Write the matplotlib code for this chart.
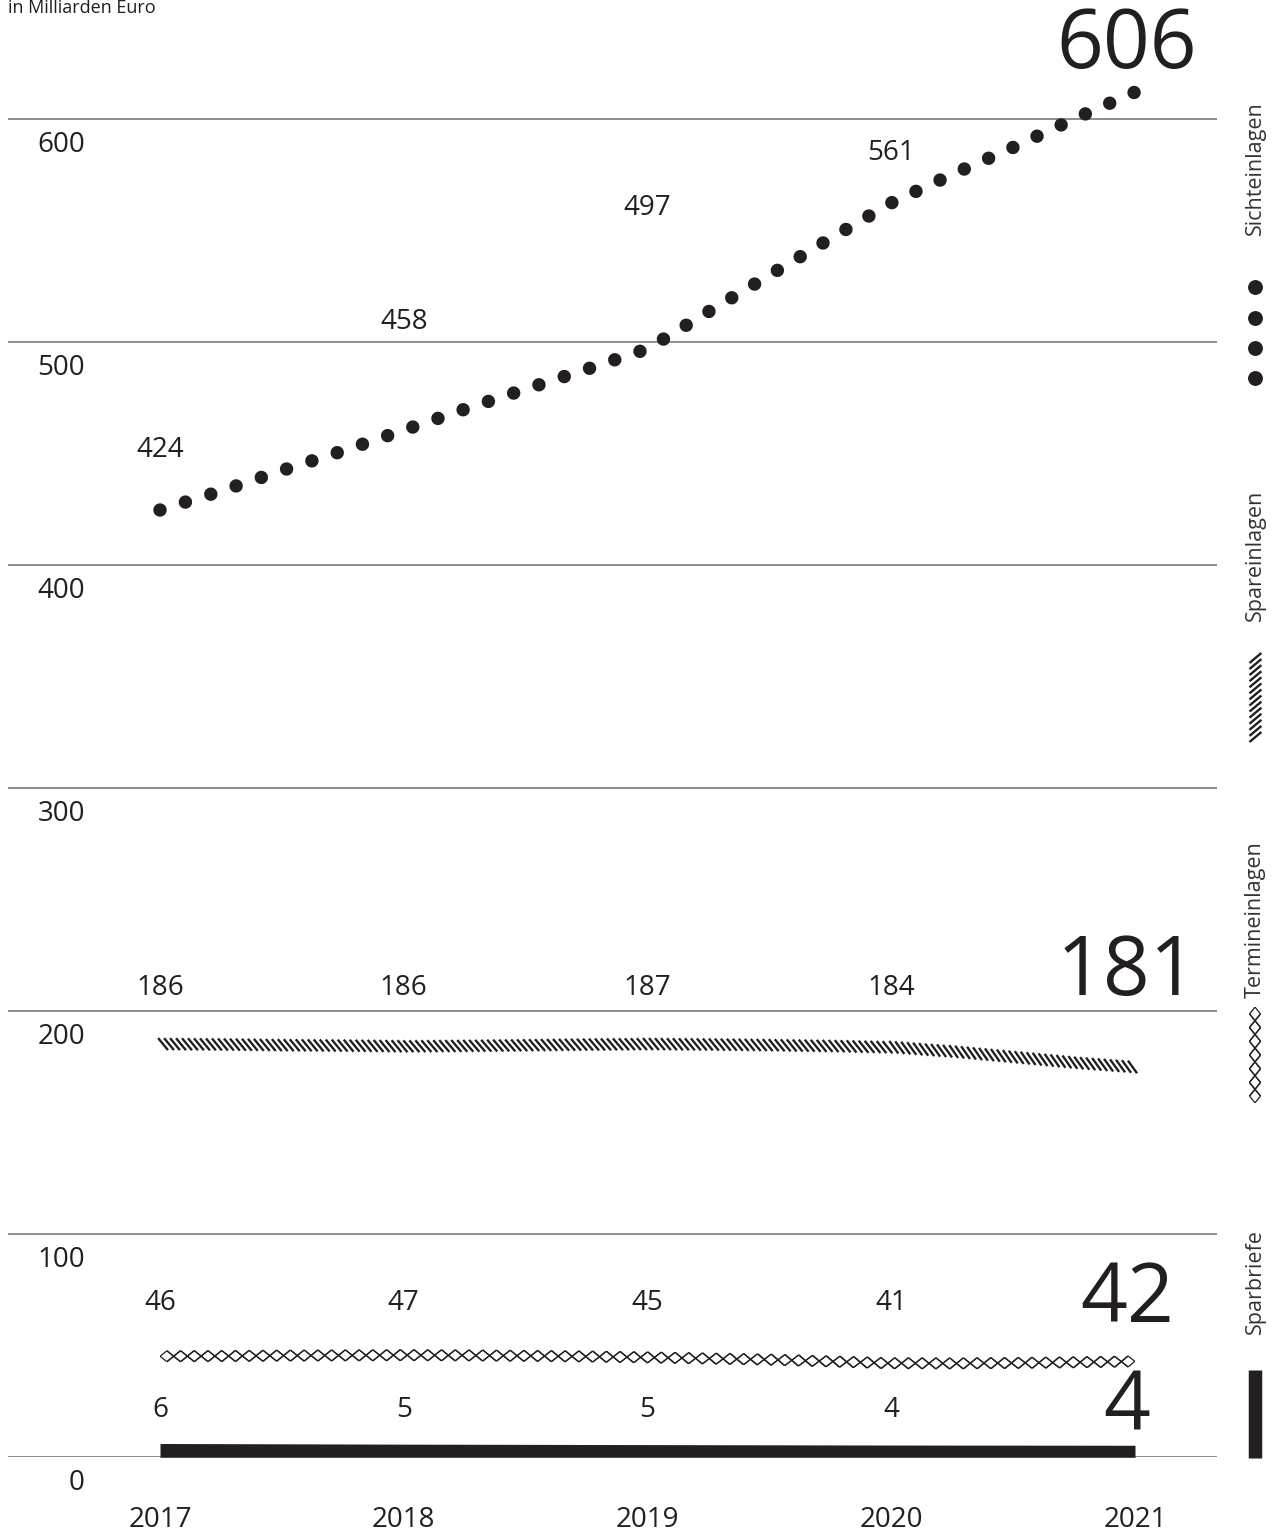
import matplotlib.pyplot as plt
from matplotlib.lines import Line2D
from matplotlib.patches import Rectangle
from matplotlib.transforms import Affine2D
from matplotlib.patheffects import TickedStroke

plt.rcParams['font.family'] = ['Open Sans', 'DejaVu Sans']

W, H = 1282, 1538
INK = '#231f20'

# data (in Milliarden Euro)
quarters = [2017.0, 2017.25, 2017.5, 2017.75, 2018.0, 2018.25, 2018.5, 2018.75,
            2019.0, 2019.25, 2019.5, 2019.75, 2020.0, 2020.25, 2020.5, 2020.75, 2021.0]
sichteinlagen = [424.8, 433.3, 442.5, 451.3, 460.6, 470.0, 479.0, 487.9,
                 497.1, 513.7, 530.1, 546.5, 562.5, 575.3, 587.4, 600.2, 612.2]
spareinlagen = [185.5, 185.3, 185.0, 184.8, 184.5, 184.7, 185.0, 185.3,
                185.5, 185.3, 185.0, 184.6, 184.0, 182.0, 179.5, 177.0, 175.0]
termineinlagen = [45.3, 45.4, 45.6, 45.7, 45.8, 45.7, 45.5, 45.2,
                  44.8, 44.3, 43.8, 43.0, 42.2, 42.1, 42.3, 42.6, 43.0]
years = [2017, 2018, 2019, 2020, 2021]
sparbriefe = [6.2, 5.9, 5.7, 5.5, 5.4]

sicht_labels = ['424', '458', '497', '561']
spar_labels = ['186', '186', '187', '184']
termin_labels = ['46', '47', '45', '41']
brief_labels = ['6', '5', '5', '4']
end_labels = ['606', '181', '42', '4']
yticks = [0, 100, 200, 300, 400, 500, 600]

# layout (pixels of the 1282x1538 picture)
x2017, x2021 = 160, 1135
px_year = (x2021 - x2017) / 4
grid_l, grid_r = 8, 1217
y_zero = 1457.3
px_unit = 2.23


def ydat(py):
    return (y_zero - py) / px_unit


def hatch_fx(off):
    return [TickedStroke(offset=off, spacing=4.3, angle=130, length=2.6)]


def diamond_fx(up, down):
    # two zigzag stroke sets, from the lower and the upper edge of the band
    return [TickedStroke(offset=down, spacing=9.8, angle=39, length=1.286),
            TickedStroke(offset=down, spacing=9.8, angle=141, length=1.286),
            TickedStroke(offset=up, spacing=9.8, angle=-39, length=1.286),
            TickedStroke(offset=up, spacing=9.8, angle=-141, length=1.286)]


fig = plt.figure(figsize=(W / 100, H / 100), dpi=100)
ax = fig.add_axes([grid_l / W, (H - y_zero) / H, (grid_r - grid_l) / W, y_zero / H])
ax.set_xlim(2017 - (x2017 - grid_l) / px_year, 2021 + (grid_r - x2021) / px_year)
ax.set_ylim(0, y_zero / px_unit)
ax.axis('off')

for v in yticks:
    ax.axhline(v, color='#6e6e6e', lw=1.1, zorder=1)
    ax.annotate(str(v), xy=(0, v), xycoords=('axes fraction', 'data'),
                xytext=(85 - grid_l, -26), textcoords='offset pixels',
                ha='right', va='center', fontsize=20, color=INK)

for yr in years:
    ax.annotate(str(yr), xy=(yr, 0), xytext=(0, -63), textcoords='offset pixels',
                ha='center', va='center', fontsize=20, color=INK, annotation_clip=False)

# Sichteinlagen: round dots along the line
ax.plot(quarters, sichteinlagen, color=INK, lw=9.7, linestyle=(0, (0.001, 1.974)),
        dash_capstyle='round', clip_on=False, zorder=3)

# Spareinlagen: slanted strokes along the line
ax.plot(quarters, spareinlagen, color=INK, lw=1.7, solid_capstyle='butt',
        path_effects=hatch_fx((3.6, -4.6)), zorder=3)

# Termineinlagen: chain of open diamonds
termin_line, = ax.plot(quarters, termineinlagen, color=INK, lw=0.9, solid_capstyle='butt',
                       path_effects=diamond_fx((0, 3.9), (0, -3.9)), zorder=3)
termin_line.set_clip_path(Rectangle((quarters[0], 0), quarters[-1] - quarters[0], 100,
                                    transform=ax.transData))

# Sparbriefe: solid band from zero
ax.fill_between(years, 0, sparbriefe, color=INK, lw=0, zorder=3)

# value labels
rows = [(sicht_labels, [ydat(450), ydat(322), ydat(208), ydat(153)]),
        (spar_labels, [ydat(988)] * 4),
        (termin_labels, [ydat(1303)] * 4),
        (brief_labels, [ydat(1410)] * 4)]
for labels, ys in rows:
    for yr, lab, yy in zip(years, labels, ys):
        ax.text(yr, yy, lab, ha='center', va='center', fontsize=20, color=INK)

for lab, py in zip(end_labels, [68, 995, 1322, 1430]):
    ax.annotate(lab, xy=(2021, ydat(py)), xytext=(-8, 0), textcoords='offset pixels',
                ha='center', va='baseline', fontsize=59, color=INK, annotation_clip=False)

fig.text(8 / W, 1 - 8 / H, 'in Milliarden Euro', ha='left', va='center',
         fontsize=13, color=INK)

# legend on the right, drawn in picture pixels
pix = Affine2D().scale(1, -1).translate(0, H)
lx = 1255
for name, cy in [('Sichteinlagen', 168), ('Spareinlagen', 555),
                 ('Termineinlagen', 920), ('Sparbriefe', 1282)]:
    fig.text(lx / W, 1 - cy / H, name, rotation=90, ha='center', va='center',
             fontsize=15.5, color='#333333')

fig.add_artist(Line2D([lx] * 4, [287, 318, 348, 378], transform=pix, ls='none',
                      marker='o', ms=9.7, mfc=INK, mec=INK))
fig.add_artist(Line2D([lx, lx], [735, 650], transform=pix, color=INK, lw=1.7,
                      solid_capstyle='butt', path_effects=hatch_fx((4.6, 0))))
leg_dia = Line2D([lx, lx], [1103, 1007], transform=pix, color=INK, lw=0.9,
                 solid_capstyle='butt', path_effects=diamond_fx((-3.9, 0), (3.9, 0)))
leg_dia.set_clip_path(Rectangle((lx - 12, 1007), 24, 96, transform=pix))
fig.add_artist(leg_dia)
fig.add_artist(Line2D([lx, lx], [1370, 1458], transform=pix, color=INK, lw=9.7,
                      solid_capstyle='butt'))

fig.savefig('out.png', dpi=100)
